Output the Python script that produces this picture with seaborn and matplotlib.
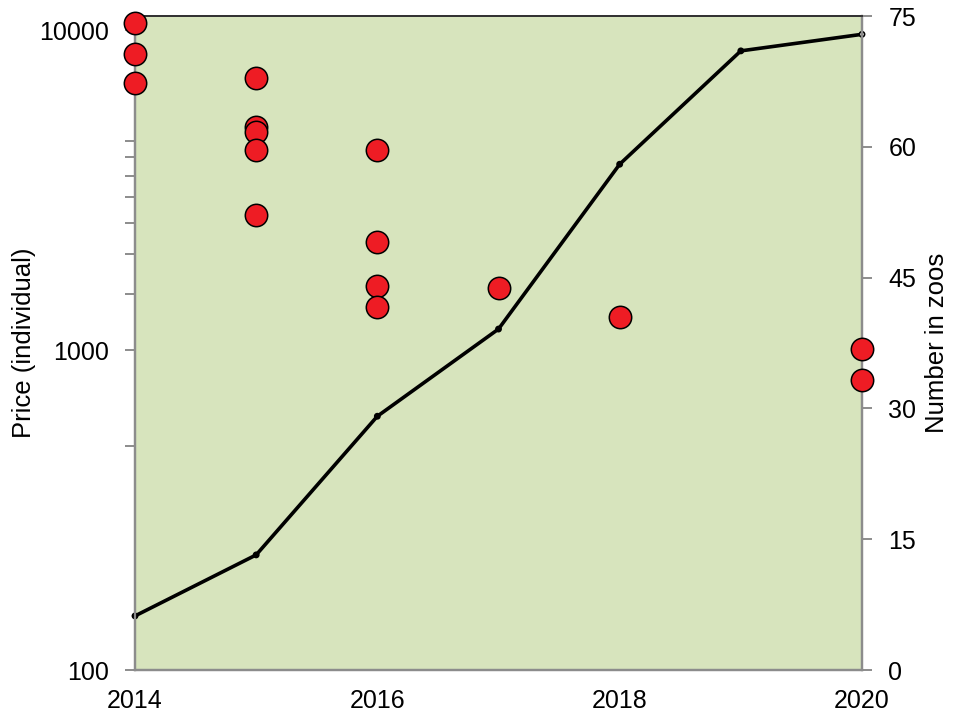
import matplotlib
matplotlib.use("Agg")
import matplotlib.pyplot as plt
import matplotlib.ticker as mticker
import seaborn as sns
import pandas as pd

# ---- data ----
price_years = [2014, 2014, 2014,
               2015, 2015, 2015, 2015, 2015,
               2016, 2016, 2016, 2016,
               2017, 2018, 2020, 2020]
price_values = [10500, 8400, 6830,
                7080, 4980, 4800, 4220, 2640,
                4220, 2180, 1585, 1360,
                1565, 1270, 1005, 805]

zoo_years = [2014, 2015, 2016, 2017, 2018, 2019, 2020]
zoo_counts = [6.2, 13.2, 29.1, 39.1, 58.0, 71.0, 72.9]

x_ticks = [2014, 2016, 2018, 2020]
left_ticks = [100, 1000, 10000]
left_minor = [500, 1500, 2000, 2500, 3000, 3500, 4000, 4500]
right_ticks = [0, 15, 30, 45, 60, 75]

sns.set_theme(style="white")
plt.rcParams['font.family'] = ['Liberation Sans', 'DejaVu Sans']
plt.rcParams['text.color'] = 'black'
plt.rcParams['axes.labelcolor'] = 'black'
plt.rcParams['xtick.color'] = 'black'
plt.rcParams['ytick.color'] = 'black'

df_price = pd.DataFrame({"year": price_years, "price": price_values})
df_zoo = pd.DataFrame({"year": zoo_years, "count": zoo_counts})

fig = plt.figure(figsize=(9.54, 7.16), dpi=100)
ax = fig.add_axes([135/954, 1-670/716, (862-135)/954, (670-16)/716])
ax2 = ax.twinx()

# line on right axis
sns.lineplot(data=df_zoo, x="year", y="count", ax=ax2, color="black",
             linewidth=2.6, zorder=2)
for ln in ax2.lines:
    ln.set_clip_on(False)
face = ["black"] * (len(zoo_years) - 1) + ["white"]
ax2.scatter(zoo_years, zoo_counts, s=14, c=face, edgecolors="black",
            linewidths=1.2, zorder=3, clip_on=False)

# scatter on left axis (drawn on top)
ax.set_zorder(ax2.get_zorder() + 1)
ax.patch.set_visible(False)
ax2.patch.set_visible(True)
ax2.patch.set_facecolor("#d7e4bd")
sns.scatterplot(data=df_price, x="year", y="price", ax=ax, s=260,
                color="#ee1c24", edgecolor="black", linewidth=1.1,
                zorder=4, clip_on=False, legend=False)

ax.set_yscale("log")
ax.set_xlim(2014, 2020)
ax.set_ylim(100, 11060)
ax2.set_ylim(0, 75)

ax.set_xticks(x_ticks)
ax.set_xticklabels([str(t) for t in x_ticks])
ax.set_yticks(left_ticks)
ax.yaxis.set_major_formatter(mticker.FixedFormatter([str(t) for t in left_ticks]))
ax.yaxis.set_minor_locator(mticker.FixedLocator(left_minor))
ax.yaxis.set_minor_formatter(mticker.NullFormatter())
ax2.set_yticks(right_ticks)
ax2.set_yticklabels([str(t) for t in right_ticks])

ax.set_xlabel("")
ax.set_ylabel("Price (individual)", fontsize=18.5, labelpad=2, color="black")
ax2.set_xlabel("")
ax2.set_ylabel("Number in zoos", fontsize=18.5, labelpad=6, color="black")

spine_gray = "#8c8c8c"
for a in (ax, ax2):
    for side in ("left", "right", "bottom"):
        a.spines[side].set_color(spine_gray)
        a.spines[side].set_linewidth(1.6)
    a.spines["top"].set_color("#333333")
    a.spines["top"].set_linewidth(1.4)
    a.tick_params(axis="both", which="major", direction="out", length=7,
                  width=1.4, color=spine_gray, labelcolor="black",
                  labelsize=18, pad=12)
    a.tick_params(axis="both", which="minor", direction="out", length=7,
                  width=1.4, color=spine_gray)
ax.tick_params(axis="x", which="major", length=6, pad=8)
ax.tick_params(axis="y", which="both", left=True, right=False)
ax2.tick_params(axis="y", which="both", right=True, left=False)

fig.savefig("out.png", dpi=100)
